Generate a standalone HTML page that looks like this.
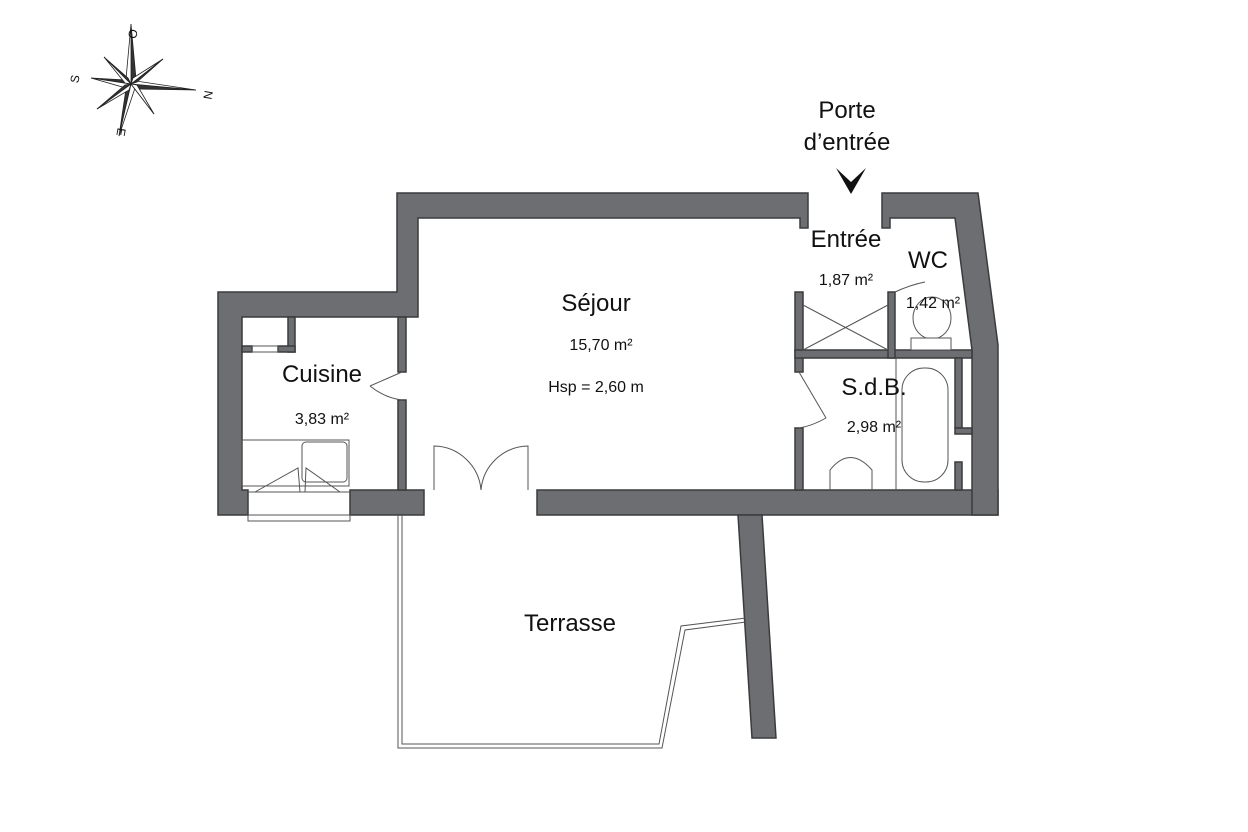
<!DOCTYPE html>
<html><head><meta charset="utf-8"><style>
body{margin:0;background:#fff;}
svg{display:block}
text{font-family:"Liberation Sans",sans-serif;fill:#111}
</style></head><body>
<svg width="1248" height="832" viewBox="0 0 1248 832" xmlns="http://www.w3.org/2000/svg">
<rect width="1248" height="832" fill="#fff"/>
<!-- compass -->
<g transform="translate(131,84)" stroke="#222" stroke-width="0.8">
<polygon points="0,-60 5,-5 0,0" fill="#333"/><polygon points="0,-60 -5,-5 0,0" fill="#fff"/>
<polygon points="65,6 5,5 0,0" fill="#333"/><polygon points="65,6 5,-3 0,0" fill="#fff"/>
<polygon points="-12,52 -5,5 0,0" fill="#333"/><polygon points="-12,52 4,4 0,0" fill="#fff"/>
<polygon points="-40,-6 -5,-4 0,0" fill="#333"/><polygon points="-40,-6 -5,4 0,0" fill="#fff"/>
<polygon points="-27,-27 -3,-6 0,0" fill="#333"/><polygon points="-27,-27 -6,-1 0,0" fill="#fff"/>
<polygon points="32,-25 6,-2 0,0" fill="#333"/><polygon points="32,-25 2,-6 0,0" fill="#fff"/>
<polygon points="23,30 4,5 0,0" fill="#333"/><polygon points="23,30 6,1 0,0" fill="#fff"/>
<polygon points="-34,25 -6,1 0,0" fill="#333"/><polygon points="-34,25 -2,6 0,0" fill="#fff"/>
</g>
<text x="0" y="0" font-size="12" text-anchor="middle" dominant-baseline="central" transform="translate(133,34) rotate(-80)">O</text>
<text x="0" y="0" font-size="12" text-anchor="middle" dominant-baseline="central" transform="translate(75,79) rotate(-80)">S</text>
<text x="0" y="0" font-size="12" text-anchor="middle" dominant-baseline="central" transform="translate(208,95) rotate(100)">N</text>
<text x="0" y="0" font-size="12" text-anchor="middle" dominant-baseline="central" transform="translate(121,132) rotate(100)">E</text>
<!-- walls -->
<g fill="#6c6e71" stroke="#3a3b3d" stroke-width="1.5">
<polygon points="397,193 808,193 808,228 800,228 800,218 418,218 418,317 242,317 242,490 248,490 248,515 218,515 218,292 397,292"/>
<rect x="350" y="490" width="74" height="25"/>
<rect x="537" y="490" width="461" height="25"/>
<polygon points="882,193 978,193 998,345 998,515 972,515 972,350 955,218 890,218 890,228 882,228"/>
<polygon points="738,515 762,515 776,738 752,738"/>
<rect x="398" y="317" width="8" height="55"/>
<rect x="398" y="400" width="8" height="90"/>
<rect x="288" y="317" width="7" height="35"/>
<rect x="242" y="346" width="10" height="6"/><rect x="278" y="346" width="17" height="6"/>
<rect x="795" y="292" width="8" height="80"/>
<rect x="795" y="428" width="8" height="62"/>
<rect x="795" y="350" width="177" height="8"/>
<rect x="888" y="292" width="7" height="66"/>
<rect x="955" y="358" width="7" height="70"/>
<rect x="955" y="428" width="17" height="6"/>
<rect x="955" y="462" width="7" height="28"/>
</g>
<g fill="none" stroke="#555" stroke-width="1">
<rect x="252" y="346" width="26" height="6"/>
<line x1="803" y1="305" x2="888" y2="350"/><line x1="803" y1="350" x2="888" y2="305"/>
<line x1="402" y1="372" x2="370" y2="386"/><path d="M370,386 Q385,398 402,400"/>
<line x1="799" y1="372" x2="826" y2="418"/><path d="M826,418 Q812,426 799,428"/>
<path d="M895,292 Q910,285 925,282"/>
<path d="M434,490 V446 A48,48 0 0 1 481,490"/><path d="M528,490 V446 A48,48 0 0 0 481,490"/>
<rect x="242" y="440" width="107" height="46"/>
<rect x="302" y="442" width="45" height="40" rx="4"/>
<path d="M255,492 L298,468 L300,492 M305,492 L306,468 L340,492"/>
<rect x="248" y="515" width="102" height="6"/>
<line x1="248" y1="492" x2="350" y2="492"/>
<path d="M398,515 V748 H662 L685,630 L746,622"/>
<path d="M402,515 V744 H659 L681,626 L746,618"/>
<line x1="896" y1="358" x2="896" y2="490"/>
<rect x="902" y="368" width="46" height="114" rx="22"/>
<path d="M830,490 V470 Q850,445 872,470 V490"/>
<ellipse cx="932" cy="318" rx="19" ry="21"/>
<rect x="911" y="338" width="40" height="12" fill="#fff"/>
</g>
<polygon points="836,168 851,182 866,168 851,194" fill="#111"/>
<!-- labels -->
<text x="847" y="118" font-size="24" text-anchor="middle">Porte</text>
<text x="847" y="150" font-size="24" text-anchor="middle">d’entrée</text>
<text x="846" y="247" font-size="24" text-anchor="middle">Entrée</text>
<text x="846" y="285" font-size="16" text-anchor="middle">1,87 m²</text>
<text x="928" y="268" font-size="24" text-anchor="middle">WC</text>
<text x="933" y="308" font-size="16" text-anchor="middle">1,42 m²</text>
<text x="874" y="395" font-size="24" text-anchor="middle">S.d.B.</text>
<text x="874" y="432" font-size="16" text-anchor="middle">2,98 m²</text>
<text x="596" y="311" font-size="24" text-anchor="middle">Séjour</text>
<text x="601" y="350" font-size="16" text-anchor="middle">15,70 m²</text>
<text x="596" y="392" font-size="16" text-anchor="middle">Hsp = 2,60 m</text>
<text x="322" y="382" font-size="24" text-anchor="middle">Cuisine</text>
<text x="322" y="424" font-size="16" text-anchor="middle">3,83 m²</text>
<text x="570" y="631" font-size="24" text-anchor="middle">Terrasse</text>
</svg>
</body></html>
